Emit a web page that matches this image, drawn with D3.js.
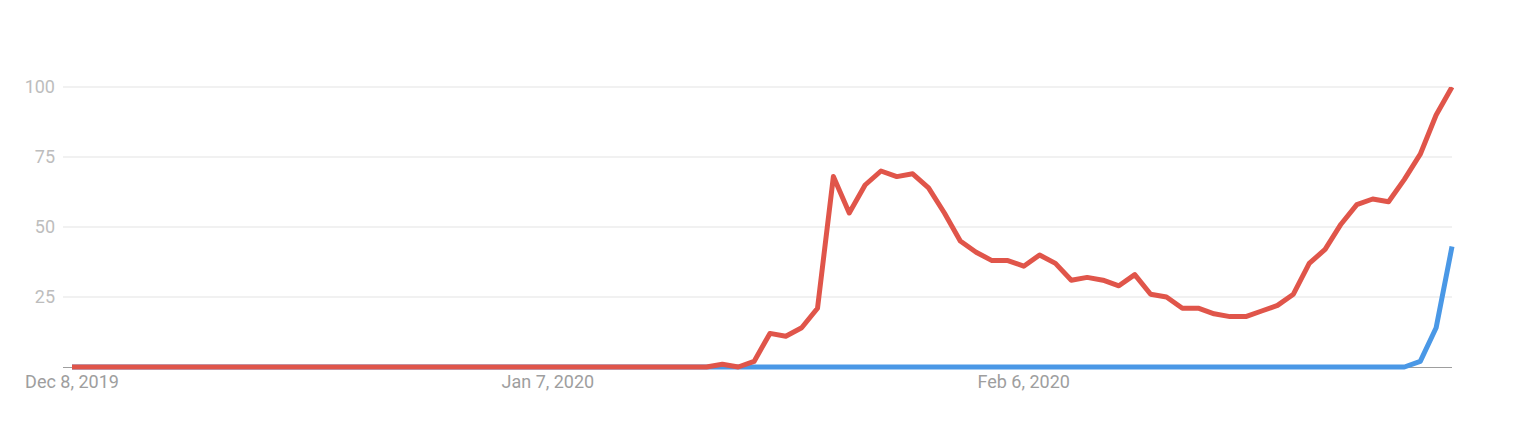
<!DOCTYPE html>
<html>
<head>
<meta charset="utf-8">
<script src="https://cdn.jsdelivr.net/npm/d3@7"></script>
<style>
  html, body { margin: 0; padding: 0; background: #fff; }
  svg { display: block; font-family: Roboto, "Noto Sans", sans-serif; }
</style>
</head>
<body>
<svg id="chart" width="1515" height="427"></svg>
<script>
const startDate = "2019-12-08";
const dayCount = 88;
const redValues = [
  0,0,0,0,0,0,0,0,0,0, 0,0,0,0,0,0,0,0,0,0,
  0,0,0,0,0,0,0,0,0,0, 0,0,0,0,0,0,0,0,0,0,
  0,1,0,2,12,11,14,21,68,55,
  65,70,68,69,64,55,45,41,38,38,
  36,40,37,31,32,31,29,33,26,25,
  21,21,19,18,18,20,22,26,37,42,
  51,58,60,59,67,76,90,100
];
const blueValues = [
  0,0,0,0,0,0,0,0,0,0, 0,0,0,0,0,0,0,0,0,0,
  0,0,0,0,0,0,0,0,0,0, 0,0,0,0,0,0,0,0,0,0,
  0,0,0,0,0,0,0,0,0,0, 0,0,0,0,0,0,0,0,0,0,
  0,0,0,0,0,0,0,0,0,0, 0,0,0,0,0,0,0,0,0,0,
  0,0,0,0,0,2,14,43
];
const xTickDates = ["2019-12-08", "2020-01-07", "2020-02-06"];
const xTickLabels = ["Dec 8, 2019", "Jan 7, 2020", "Feb 6, 2020"];
const yTicks = [25, 50, 75, 100];

const parse = d3.utcParse("%Y-%m-%d");
const t0 = parse(startDate);
const dates = d3.range(dayCount).map(i => d3.utcDay.offset(t0, i));

const svg = d3.select("#chart");
const x = d3.scaleUtc().domain([dates[0], dates[dates.length - 1]]).range([72, 1452]);
const y = d3.scaleLinear().domain([0, 100]).range([367, 87]);
const gridLeft = 63, gridRight = 1452;

svg.append("defs").append("clipPath").attr("id", "plotclip")
  .append("rect").attr("x", 0).attr("y", y(100)).attr("width", 1515).attr("height", 400);

// gridlines
svg.append("g").selectAll("line").data(yTicks).join("line")
  .attr("x1", gridLeft).attr("x2", gridRight)
  .attr("y1", d => y(d)).attr("y2", d => y(d))
  .attr("stroke", "#e3e3e3").attr("stroke-width", 1);

// y labels
svg.append("g").selectAll("text").data(yTicks).join("text")
  .attr("x", 55).attr("y", d => y(d))
  .attr("dy", "0.36em")
  .attr("text-anchor", "end")
  .attr("fill", "#bdbdbd")
  .attr("font-size", 18)
  .text(d => d);

// baseline
svg.append("line")
  .attr("x1", gridLeft).attr("x2", gridRight)
  .attr("y1", y(0) + 0.5).attr("y2", y(0) + 0.5)
  .attr("stroke", "#9e9e9e").attr("stroke-width", 1);

// x labels
svg.append("g").selectAll("text").data(xTickDates).join("text")
  .attr("x", d => x(parse(d)))
  .attr("y", 388)
  .attr("text-anchor", "middle")
  .attr("fill", "#9e9e9e")
  .attr("font-size", 18)
  .text((d, i) => xTickLabels[i]);

const line = d3.line().x((d, i) => x(dates[i])).y(d => y(d));

const g = svg.append("g").attr("clip-path", "url(#plotclip)");

g.append("path").datum(blueValues)
  .attr("d", line)
  .attr("fill", "none")
  .attr("stroke", "#4a98e6")
  .attr("stroke-width", 5)
  .attr("stroke-linejoin", "round");

g.append("path").datum(redValues)
  .attr("d", line)
  .attr("fill", "none")
  .attr("stroke", "#e0554a")
  .attr("stroke-width", 5)
  .attr("stroke-linejoin", "round");
</script>
</body>
</html>
